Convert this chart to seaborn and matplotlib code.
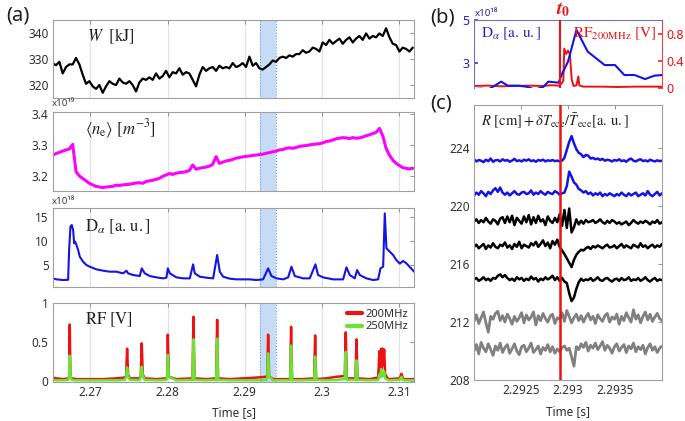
import numpy as np
import matplotlib
matplotlib.use("Agg")
import matplotlib.pyplot as plt
import seaborn as sns
from matplotlib.ticker import FixedLocator, FuncFormatter

# ---------------- data ----------------
# (a) stored energy W [kJ], uniformly sampled
W_vals = [328.4, 327.7, 329.0, 324.5, 327.0, 328.0, 328.0, 330.5, 328.0, 324.0,
          320.5, 321.5, 319.5, 318.5, 320.0, 317.0, 319.5, 321.5, 320.5, 320.0,
          322.5, 321.0, 320.5, 321.5, 320.0, 317.5, 321.0, 322.5, 322.0, 323.0,
          322.0, 324.5, 322.5, 323.5, 325.5, 323.0, 325.0, 324.5, 326.5, 324.0,
          325.0, 324.5, 322.0, 319.5, 324.0, 327.0, 325.5, 326.5, 327.0, 325.5,
          327.5, 326.5, 327.0, 326.5, 328.5, 327.0, 327.5, 328.5, 327.0, 331.0,
          327.5, 328.5, 326.5, 326.0, 327.0, 328.0, 329.5, 329.0, 330.5, 331.0,
          330.5, 331.5, 331.0, 332.0, 332.0, 333.5, 332.5, 333.0, 334.5, 334.0,
          333.0, 336.5, 335.5, 337.5, 336.0, 337.0, 338.0, 336.0, 337.5, 338.5,
          336.5, 338.0, 339.0, 337.5, 340.0, 338.0, 339.0, 338.5, 340.0, 339.0,
          342.0, 338.5, 336.0, 335.5, 333.0, 334.5, 334.0, 333.0, 334.5]

# (a) line-averaged density <ne> [1e19 m^-3], uniformly sampled
ne_vals = [3.267, 3.272, 3.276, 3.280, 3.284, 3.287, 3.302, 3.213, 3.199, 3.191,
           3.183, 3.175, 3.170, 3.165, 3.163, 3.161, 3.163, 3.164, 3.165, 3.169,
           3.168, 3.170, 3.171, 3.172, 3.174, 3.176, 3.177, 3.175, 3.181, 3.183,
           3.185, 3.188, 3.191, 3.198, 3.202, 3.207, 3.204, 3.208, 3.210, 3.211,
           3.213, 3.217, 3.235, 3.221, 3.224, 3.226, 3.228, 3.231, 3.237, 3.262,
           3.240, 3.244, 3.248, 3.250, 3.253, 3.257, 3.259, 3.261, 3.263, 3.264,
           3.266, 3.267, 3.269, 3.270, 3.273, 3.275, 3.278, 3.280, 3.284, 3.285,
           3.289, 3.291, 3.289, 3.292, 3.295, 3.297, 3.298, 3.300, 3.302, 3.303,
           3.304, 3.307, 3.311, 3.313, 3.316, 3.320, 3.322, 3.324, 3.323, 3.321,
           3.324, 3.322, 3.323, 3.326, 3.330, 3.333, 3.337, 3.341, 3.354, 3.330,
           3.289, 3.267, 3.251, 3.240, 3.233, 3.226, 3.224, 3.222, 3.224]
a_t_start, a_t_end = 2.2651, 2.3118

# (a) D-alpha [1e18 a.u.]
da_t = [2.26507, 2.26559, 2.26645, 2.26710, 2.26723, 2.26740, 2.26757, 2.26775, 2.26788, 2.26801,
        2.26818, 2.26840, 2.26861, 2.26904, 2.26948, 2.26991, 2.27077, 2.27164, 2.27250, 2.27337,
        2.27423, 2.27466, 2.27488, 2.27553, 2.27639, 2.27665, 2.27704, 2.27769, 2.27855, 2.27942,
        2.27985, 2.28003, 2.28029, 2.28115, 2.28202, 2.28288, 2.28331, 2.28353, 2.28418, 2.28504,
        2.28591, 2.28643, 2.28677, 2.28720, 2.28807, 2.28893, 2.29066, 2.29153, 2.29239, 2.29304,
        2.29347, 2.29412, 2.29499, 2.29564, 2.29607, 2.29650, 2.29758, 2.29844, 2.29918, 2.29952,
        2.30017, 2.30147, 2.30277, 2.30320, 2.30363, 2.30428, 2.30458, 2.30493, 2.30579, 2.30666,
        2.30731, 2.30761, 2.30796, 2.30817, 2.30839, 2.30882, 2.30925, 2.30969, 2.31012, 2.31055,
        2.31098, 2.31141, 2.31198]
da_vals = [2.20, 1.99, 1.85, 1.90, 8.15, 13.04, 13.39, 12.34, 9.55, 9.90,
           9.20, 8.15, 6.75, 5.70, 5.00, 4.65, 4.09, 3.81, 3.60, 3.60,
           3.25, 3.81, 3.25, 2.90, 2.69, 4.30, 3.25, 2.69, 2.41, 2.20,
           2.34, 4.30, 3.25, 2.41, 2.20, 2.20, 5.14, 3.25, 2.55, 2.34,
           2.20, 7.10, 3.60, 2.55, 2.13, 1.99, 1.99, 1.85, 1.99, 4.30,
           2.69, 2.20, 1.99, 2.41, 4.65, 2.69, 2.20, 2.20, 5.14, 2.90,
           2.41, 1.99, 1.99, 4.51, 2.90, 2.20, 3.95, 2.90, 2.20, 1.85,
           1.99, 4.30, 4.65, 15.84, 8.50, 7.80, 7.10, 6.00, 5.30, 5.85,
           5.35, 4.60, 3.60]

# (a) RF [V]
rf_t = [2.26507, 2.26559, 2.26645, 2.26710, 2.26723, 2.26731, 2.26740, 2.26757, 2.26818, 2.26991,
        2.27164, 2.27337, 2.27445, 2.27462, 2.27475, 2.27488, 2.27510, 2.27639, 2.27652, 2.27665,
        2.27678, 2.27704, 2.27855, 2.27985, 2.27994, 2.28003, 2.28016, 2.28115, 2.28323, 2.28336,
        2.28349, 2.28504, 2.28630, 2.28643, 2.28655, 2.28807, 2.28980, 2.29153, 2.29282, 2.29295,
        2.29304, 2.29317, 2.29369, 2.29589, 2.29602, 2.29615, 2.29758, 2.29901, 2.29914, 2.29927,
        2.30061, 2.30190, 2.30298, 2.30311, 2.30324, 2.30437, 2.30450, 2.30463, 2.30623, 2.30731,
        2.30748, 2.30757, 2.30770, 2.30778, 2.30787, 2.30796, 2.30809, 2.30822, 2.30861, 2.31012,
        2.31033, 2.31055, 2.31198]
rf200 = [0.04, 0.03, 0.02, 0.03, 0.05, 0.72, 0.05, 0.03, 0.02, 0.02,
         0.02, 0.03, 0.04, 0.06, 0.41, 0.08, 0.03, 0.03, 0.06, 0.48,
         0.08, 0.03, 0.02, 0.03, 0.05, 0.59, 0.05, 0.02, 0.03, 0.82,
         0.03, 0.02, 0.03, 0.78, 0.03, 0.02, 0.03, 0.04, 0.05, 0.08,
         0.59, 0.05, 0.02, 0.02, 0.69, 0.02, 0.02, 0.03, 0.58, 0.02,
         0.03, 0.05, 0.06, 0.62, 0.03, 0.03, 0.53, 0.03, 0.02, 0.04,
         0.38, 0.10, 0.41, 0.15, 0.41, 0.20, 0.40, 0.08, 0.02, 0.03,
         0.09, 0.02, 0.02]
rf250 = [0.01, 0.005, 0.005, 0.01, 0.06, 0.32, 0.06, 0.01, 0.005, 0.005,
         0.005, 0.005, 0.01, 0.05, 0.17, 0.06, 0.01, 0.01, 0.05, 0.18,
         0.06, 0.01, 0.005, 0.01, 0.05, 0.33, 0.05, 0.005, 0.01, 0.53,
         0.01, 0.005, 0.01, 0.54, 0.01, 0.005, 0.005, 0.005, 0.01, 0.05,
         0.35, 0.05, 0.005, 0.005, 0.45, 0.005, 0.005, 0.01, 0.31, 0.01,
         0.005, 0.01, 0.02, 0.37, 0.01, 0.01, 0.26, 0.01, 0.005, 0.01,
         0.08, 0.04, 0.15, 0.05, 0.10, 0.06, 0.12, 0.03, 0.005, 0.01,
         0.05, 0.005, 0.005]

# (b) zoomed D-alpha and RF200
b_da_t = [2.29200, 2.29208, 2.29215, 2.29229, 2.29236, 2.29247, 2.29256, 2.29265, 2.29274, 2.29279,
          2.29290, 2.29293, 2.29300, 2.29309, 2.29321, 2.29339, 2.29350, 2.29360, 2.29371, 2.29382,
          2.29392, 2.29400]
b_da = [1.75, 1.77, 1.72, 2.10, 1.91, 1.91, 1.86, 1.72, 1.86, 2.10,
        2.05, 2.41, 3.04, 4.53, 3.51, 2.88, 2.88, 2.41, 2.41, 2.22,
        2.38, 2.41]
b_rf_t = [2.29200, 2.29215, 2.29229, 2.29243, 2.29257, 2.29272, 2.29282, 2.29291, 2.29295, 2.29296,
          2.29298, 2.29300, 2.29302, 2.29304, 2.29306, 2.29309, 2.29311, 2.29312, 2.29316, 2.29335,
          2.29353, 2.29371, 2.29400]
b_rf = [0.03, 0.035, 0.025, 0.03, 0.035, 0.03, 0.04, 0.035, 0.10, 0.58,
        0.50, 0.55, 0.50, 0.12, 0.03, 0.04, 0.17, 0.04, 0.02, 0.02,
        0.015, 0.02, 0.02]
t0 = 2.29292

# (c) ECE channels: R [cm] + dTe/Te
ece1 = [223.25, 223.10, 223.20, 223.15, 223.05, 223.22, 223.12, 223.30, 223.08, 223.18,
        223.20, 223.10, 223.25, 223.15, 223.20, 223.08, 223.16, 223.28, 223.12, 223.18,
        223.10, 223.22, 223.15, 223.25, 223.12, 223.18, 223.08, 223.20, 223.15, 223.22,
        223.10, 223.18, 223.14, 223.20, 223.12, 223.16, 223.10, 223.15,
        223.35, 223.90, 224.45, 224.85, 224.35, 223.95, 223.70, 223.60, 223.40, 223.55,
        223.50, 223.30, 223.35, 223.25, 223.30, 223.20, 223.28, 223.15, 223.22, 223.18,
        223.10, 223.20, 223.15, 223.25, 223.12, 223.18, 223.08, 223.22, 223.30, 223.15,
        223.10, 223.20, 223.25, 223.12, 223.18, 223.10, 223.22, 223.15, 223.10, 223.18,
        223.12, 223.15]
ece2 = [220.75, 220.95, 220.80, 221.05, 220.90, 220.70, 221.00, 220.85, 221.10, 221.25,
        221.00, 221.30, 220.95, 220.80, 220.95, 220.75, 220.90, 221.05, 220.85, 220.80,
        220.95, 221.00, 220.85, 220.90, 221.10, 220.80, 220.95, 220.85, 221.05, 220.90,
        220.80, 221.00, 220.90, 220.85, 221.05, 220.95, 220.80, 220.90,
        220.95, 221.40, 222.40, 222.05, 221.65, 221.50, 221.20, 221.10, 220.95, 221.05,
        220.85, 220.95, 220.75, 220.90, 220.80, 220.95, 220.70, 220.85, 220.75, 220.90,
        220.80, 220.70, 220.85, 220.75, 220.95, 220.80, 220.70, 220.90, 220.75, 220.85,
        220.95, 220.70, 220.80, 220.90, 220.75, 221.05, 220.80, 220.70, 220.85, 221.00,
        220.75, 220.90]
ece3 = [218.95, 219.10, 218.85, 219.05, 218.90, 219.20, 218.95, 218.80, 219.10, 219.00,
        218.75, 219.15, 219.25, 218.85, 219.30, 218.90, 219.35, 218.70, 219.20, 219.00,
        218.80, 219.30, 218.90, 219.40, 218.75, 219.25, 218.85, 219.35, 218.95, 219.10,
        218.70, 219.30, 219.00, 218.85, 219.20, 218.90,
        219.45, 218.65, 219.75, 218.50, 219.85, 218.20, 218.55, 219.10, 218.75, 219.00,
        218.80, 219.05,
        218.90, 218.95, 219.05, 218.85, 218.95, 219.10, 218.90, 218.80, 219.00, 218.85,
        219.05, 218.95, 218.80, 218.90, 218.75, 218.85, 218.95, 218.70, 218.85, 219.05,
        218.90, 218.80, 218.95, 218.85, 219.00, 218.90, 218.75, 218.95, 218.85, 219.05,
        218.80, 218.90]
ece4 = [217.20, 217.35, 217.10, 217.25, 217.40, 217.05, 217.30, 217.15, 217.45, 217.20,
        217.10, 217.35, 217.25, 217.50, 217.15, 217.30, 217.05, 217.40, 217.20, 217.55,
        217.10, 217.35, 217.25, 217.15, 217.45, 217.30, 217.55, 217.20, 217.40, 217.65,
        217.25, 217.50, 217.10, 217.60, 217.35,
        217.70, 217.20, 216.95, 216.70, 216.40, 216.10, 215.80, 216.30, 216.65, 216.85,
        217.00, 216.95, 217.10,
        217.20, 217.05, 217.25, 217.15, 217.30, 217.20, 217.10, 217.25, 217.35, 217.15,
        217.20, 217.30, 217.10, 217.25, 217.40, 217.15, 217.30, 217.20, 217.10, 217.35,
        217.25, 217.15, 217.45, 217.20, 217.30, 217.10, 217.25, 217.35, 217.15, 217.30,
        217.20, 217.40]
ece5 = [214.95, 215.05, 214.85, 214.95, 215.10, 214.90, 215.00, 214.85, 215.05, 215.00,
        215.20, 215.30, 215.10, 215.25, 215.05, 214.90, 215.00, 214.85, 215.10, 214.95,
        215.05, 214.85, 215.00, 214.90, 215.15, 214.95, 215.05, 214.80, 215.00, 214.90,
        215.10, 214.95, 215.05, 215.20, 214.90, 215.10,
        214.85, 215.05, 214.80, 214.70, 214.00, 213.45, 213.70, 214.30, 214.75, 215.00,
        214.85, 214.95,
        214.90, 215.05, 214.85, 214.95, 215.10, 214.90, 214.85, 215.00, 215.05, 214.90,
        214.80, 214.95, 215.00, 214.85, 215.05, 214.90, 214.95, 215.10, 214.85, 214.95,
        214.90, 215.05, 214.85, 214.95, 215.10, 214.90, 214.80, 214.95, 215.05, 214.85,
        214.95, 214.90]
ece6 = [212.05, 212.50, 211.90, 212.30, 212.70, 211.95, 211.30, 212.40, 212.20, 212.60,
        212.75, 212.10, 212.45, 212.00, 212.55, 212.25, 211.85, 212.40, 212.05, 212.30,
        212.65, 211.95, 212.50, 212.15, 212.35, 212.70, 211.80, 212.45, 212.10, 212.60,
        212.25, 212.00, 212.40, 212.55, 211.90, 212.30, 212.20, 212.65, 212.05, 212.80,
        212.40, 211.95, 212.30, 212.55, 212.10, 212.45, 212.00, 212.35, 212.60, 212.15,
        212.40, 211.90, 212.50, 212.25, 212.05, 212.45, 212.60, 212.00, 212.35, 212.20,
        212.55, 211.85, 212.40, 212.10, 212.65, 212.30, 212.00, 212.85, 212.20, 212.50,
        211.95, 212.40, 212.70, 212.15, 212.55, 212.05, 212.35, 212.60, 212.25, 212.10]
ece7 = [210.00, 210.45, 209.80, 210.60, 210.20, 209.95, 210.50, 210.10, 209.70, 210.35,
        210.05, 210.55, 209.90, 210.25, 210.45, 209.85, 210.15, 210.50, 210.00, 209.75,
        210.30, 210.40, 209.95, 210.20, 210.55, 209.90, 210.10, 210.35, 209.80, 210.25,
        210.05, 210.45, 209.95, 210.30, 209.85, 210.15, 209.95, 210.25, 210.35, 210.05,
        210.20, 209.60, 208.95, 210.30, 210.10, 210.50, 210.25, 210.60, 210.00, 210.40,
        210.20, 210.55, 210.10, 210.35, 210.65, 210.05, 210.40, 210.20, 209.85, 210.30,
        210.50, 210.00, 210.25, 210.45, 209.90, 210.35, 210.15, 210.55, 209.95, 210.30,
        210.10, 210.40, 209.80, 210.25, 210.50, 210.05, 210.30, 209.90, 210.20, 210.35]
ece_colors = ["#1414e6", "#1414e6", "black", "black", "black", "#808080", "#808080"]
c_t_start, c_t_end = 2.2920, 2.2940

a_xticks = [2.27, 2.28, 2.29, 2.30, 2.31]
c_xticks = [2.2925, 2.2930, 2.2935]
span = (2.2920, 2.2940)

# ---------------- style ----------------
sns.set_theme(style="white")
plt.rcParams.update({
    "mathtext.fontset": "stix",
    "axes.edgecolor": "#a0a0a0",
    "axes.linewidth": 0.8,
    "xtick.direction": "in",
    "ytick.direction": "in",
})
plt.rcParams["font.family"] = ["Noto Sans", "DejaVu Sans"]

W, H = 685, 421
fig = plt.figure(figsize=(W / 100, H / 100), dpi=100)


def box(l, t, r, b):
    return [l / W, 1 - b / H, (r - l) / W, (b - t) / H]


gfmt = FuncFormatter(lambda v, p: f"{v:g}")
TXT = "#303030"
LBL = 8.5


def style_a(ax, last=False):
    ax.set_xlim(2.2651, 2.3120)
    ax.xaxis.set_major_locator(FixedLocator(a_xticks))
    ax.xaxis.set_major_formatter(gfmt)
    ax.grid(False)
    for xv in a_xticks:
        ax.axvline(xv, color="#e2e2e2", lw=0.9, zorder=0.2)
    ax.axvspan(*span, facecolor="#c6dbf5", edgecolor="none", zorder=0.5)
    for xv in span:
        ax.axvline(xv, color="#6b9bd8", ls=":", lw=0.8, zorder=0.6)
    ax.tick_params(axis="both", which="both", direction="in", top=True, right=True,
                   length=3, width=0.7, color="#909090", labelsize=LBL, labelcolor=TXT, pad=3)
    if not last:
        ax.tick_params(axis="x", labelbottom=False)
    ax.set_xlabel("")
    ax.set_ylabel("")


tA = np.linspace(a_t_start, a_t_end, len(W_vals))
tN = np.linspace(a_t_start, a_t_end, len(ne_vals))

axW = fig.add_axes(box(52.7, 20, 414.3, 97.7))
sns.lineplot(x=tA, y=W_vals, ax=axW, color="black", lw=1.6, estimator=None, sort=False)
axW.set_ylim(315.1, 345.2)
axW.set_yticks([320, 330, 340])
style_a(axW)
axW.text(0.095, 0.79, r"$W\ \ \mathrm{[kJ]}$", transform=axW.transAxes, fontsize=12, va="center", ha="left", color="#202020")

axN = fig.add_axes(box(52.7, 112.3, 414.3, 191))
sns.lineplot(x=tN, y=ne_vals, ax=axN, color="#ff00ff", lw=2.2, estimator=None, sort=False)
axN.set_ylim(3.15, 3.4065)
axN.set_yticks([3.2, 3.3, 3.4])
axN.yaxis.set_major_formatter(gfmt)
style_a(axN)
axN.text(0.09, 0.78, r"$\langle n_\mathrm{e}\rangle\ [m^{-3}]$", transform=axN.transAxes, fontsize=12, va="center", ha="left", color="#202020")
fig.text(52 / W, 1 - 104 / H, "x10¹⁹", fontsize=7, color="#404040", ha="left", va="center")

axD = fig.add_axes(box(52.7, 208.3, 414.3, 286.7))
sns.lineplot(x=da_t, y=da_vals, ax=axD, color="#1414e6", lw=1.5, estimator=None, sort=False)
axD.set_ylim(0.45, 16.9)
axD.set_yticks([5, 10, 15])
style_a(axD)
axD.text(0.09, 0.77, r"$\mathrm{D}_\alpha\ [\mathrm{a.\,u.}]$", transform=axD.transAxes, fontsize=12, va="center", ha="left", color="#202020")
fig.text(52 / W, 1 - 201.5 / H, "x10¹⁸", fontsize=7, color="#404040", ha="left", va="center")

axR = fig.add_axes(box(52.7, 302.7, 414.3, 381.7))
sns.lineplot(x=rf_t, y=rf200, ax=axR, color="#ee1111", lw=1.8, estimator=None, sort=False, label="200MHz")
sns.lineplot(x=rf_t, y=rf250, ax=axR, color="#66e633", lw=1.8, estimator=None, sort=False, label="250MHz")
axR.set_ylim(-0.013, 1.0)
axR.set_yticks([0, 0.5, 1])
axR.yaxis.set_major_formatter(gfmt)
style_a(axR, last=True)
axR.set_xlabel("Time [s]", fontsize=LBL, color=TXT, labelpad=5)
leg = axR.legend(loc="upper right", frameon=False, prop={"weight": "bold", "size": 8},
                 handlelength=1.4, handletextpad=0.3, labelspacing=0.15, borderaxespad=0.15)
for h in leg.legend_handles:
    h.set_linewidth(3)
for tx in leg.get_texts():
    tx.set_color(TXT)
axR.text(0.09, 0.78, r"$\mathrm{RF\ [V]}$", transform=axR.transAxes, fontsize=12, va="center", ha="left", color="#202020")

# (b)
axB = fig.add_axes(box(474, 20, 662, 88))
axB2 = axB.twinx()
sns.lineplot(x=b_rf_t, y=b_rf, ax=axB2, color="#ee1111", lw=1.4, estimator=None, sort=False)
sns.lineplot(x=b_da_t, y=b_da, ax=axB, color="#1414e6", lw=1.5, estimator=None, sort=False)
axB.set_zorder(axB2.get_zorder() + 1)
axB.patch.set_visible(False)
axB.set_xlim(c_t_start, c_t_end)
axB.set_ylim(1.8, 5.0)
axB.set_yticks([3, 5])
axB2.set_ylim(0, 1.0)
axB2.set_yticks([0, 0.4, 0.8])
axB2.yaxis.set_major_formatter(gfmt)
axB.set_xticks([])
for a in (axB, axB2):
    a.grid(False)
    a.set_xlabel("")
    a.set_ylabel("")
    a.spines["bottom"].set_visible(False)
axB.spines["left"].set_color("#7070d0")
axB.spines["top"].set_color("#7070d0")
axB.spines["right"].set_visible(False)
axB2.spines["left"].set_visible(False)
axB2.spines["top"].set_visible(False)
axB2.spines["right"].set_color("#ee4444")
axB.tick_params(axis="y", direction="in", length=3, color="#4040c0", labelcolor="#2020c0", labelsize=LBL + 0.5, pad=3)
axB2.tick_params(axis="y", direction="in", length=3, color="#ee3333", labelcolor="#ee1111", labelsize=LBL + 0.5, pad=3)
axB.axvline(t0, color="#ee1111", lw=1.5, zorder=5)
axB.text(0.035, 0.80, r"$\mathrm{D}_\alpha\ [\mathrm{a.\,u.}]$", transform=axB.transAxes, fontsize=11, color="#2020c0", va="center", ha="left")
axB.text(0.97, 0.80, r"$\mathrm{RF}_\mathrm{200MHz}\ \mathrm{[V]}$", transform=axB.transAxes, fontsize=11, color="#ee1111", va="center", ha="right")
fig.text(475 / W, 1 - 14 / H, "x10¹⁸", fontsize=7, color="#2020c0", ha="left", va="center")
fig.text(563 / W, 1 - 9 / H, r"$\mathbfit{t}_\mathbf{0}$", fontsize=14, color="#ee1111", ha="center", va="center")

# (c)
axC = fig.add_axes(box(474, 105, 662, 380))
for vals, col in zip([ece1, ece2, ece3, ece4, ece5, ece6, ece7], ece_colors):
    sns.lineplot(x=np.linspace(c_t_start, c_t_end, len(vals)), y=vals, ax=axC, color=col,
                 lw=1.8 if col != "#808080" else 2.0, estimator=None, sort=False)
axC.axvline(t0, color="#ee1111", lw=1.8, zorder=5)
axC.set_xlim(c_t_start, c_t_end)
axC.set_ylim(208, 227)
axC.set_yticks([208, 212, 216, 220, 224])
axC.xaxis.set_major_locator(FixedLocator(c_xticks))
axC.xaxis.set_major_formatter(gfmt)
axC.grid(False)
axC.tick_params(axis="both", direction="in", top=True, right=True, length=3, width=0.7,
                color="#909090", labelsize=LBL, labelcolor=TXT, pad=3)
axC.set_xlabel("Time [s]", fontsize=LBL, color=TXT, labelpad=6)
axC.set_ylabel("")
axC.text(0.035, 0.94, r"$R\ \mathrm{[cm]}+\delta T_\mathrm{ece}/\bar{T}_\mathrm{ece}\mathrm{[a.\,u.]}$",
         transform=axC.transAxes, fontsize=10.5, color="#202020", va="center", ha="left")

# panel labels
for lab, x, y in [("(a)", 18, 16), ("(b)", 443, 17), ("(c)", 441, 103)]:
    fig.text(x / W, 1 - y / H, lab, fontsize=14.5, fontweight="bold", ha="center", va="center", color="#202020")

fig.savefig("out.png", dpi=100)
